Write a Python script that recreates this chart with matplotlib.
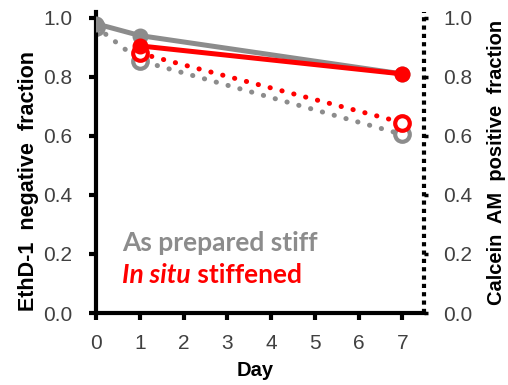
import matplotlib
matplotlib.use("Agg")
import matplotlib.pyplot as plt

plt.rcParams['font.family'] = ['Liberation Sans', 'DejaVu Sans']

gray_days = [0, 1, 7]
gray_ethd = [0.98, 0.94, 0.81]
gray_calc = [0.97, 0.855, 0.605]
red_days = [1, 7]
red_ethd = [0.905, 0.81]
red_calc = [0.88, 0.645]
xticks = [0, 1, 2, 3, 4, 5, 6, 7]
yticks = [0.0, 0.2, 0.4, 0.6, 0.8, 1.0]

GRAY = '#8c8c8c'
RED = '#ff0000'
TICKC = '#404040'
DOT = (0, (0.05, 2.4))

fig = plt.figure(figsize=(5.08, 3.85), dpi=100)
ax = fig.add_axes([0.189, 0.187, 0.646, 0.782])

ax.plot(gray_days, gray_calc, linestyle=DOT, dash_capstyle='round', color=GRAY,
        lw=3.6, marker='o', ms=10.5, mfc='white', mec=GRAY, mew=3, zorder=2)
ax.plot(gray_days, gray_ethd, '-', color=GRAY, lw=3.6, marker='o', ms=10.5,
        mfc=GRAY, mec=GRAY, zorder=3)
ax.plot(red_days, red_calc, linestyle=DOT, dash_capstyle='round', color=RED,
        lw=3.6, marker='o', ms=10.5, mfc='white', mec=RED, mew=3, zorder=4)
ax.plot(red_days, red_ethd, '-', color=RED, lw=3.6, marker='o', ms=10.5,
        mfc=RED, mec=RED, zorder=5)

ax.set_xlim(0, 7.5)
ax.set_ylim(0, 1.02)
ax.set_xticks(xticks)
ax.set_yticks(yticks)
ax.set_yticklabels([f"{v:.1f}" for v in yticks])
ax.spines['top'].set_visible(False)
ax.spines['right'].set_visible(False)
ax.spines['left'].set_linewidth(3)
ax.spines['bottom'].set_linewidth(3)
ax.tick_params(axis='both', direction='out', length=5, width=3, labelsize=15,
               labelcolor=TICKC)
ax.tick_params(axis='x', pad=10)
ax.tick_params(axis='y', pad=12)
ax.set_xlabel('Day', fontsize=14.5, fontweight='bold')
ax.set_ylabel('EthD-1  negative  fraction', fontsize=15.5, fontweight='bold')
ax.yaxis.set_label_coords(-0.175, 0.44)
ax.xaxis.set_label_coords(0.485, -0.158)

# dotted right axis line
ax.axvline(7.5, color='black', lw=3, linestyle=(0, (1, 1)), clip_on=False, zorder=1)

ax2 = ax.twinx()
ax2.set_ylim(0, 1.02)
ax2.set_yticks(yticks)
ax2.set_yticklabels([f"{v:.1f}" for v in yticks])
for s in ['top', 'left', 'bottom', 'right']:
    ax2.spines[s].set_visible(False)
ax2.tick_params(axis='y', direction='out', length=3, width=2.5, labelsize=15,
                labelcolor=TICKC, pad=11)
ax2.set_ylabel('Calcein  AM  positive  fraction', fontsize=14.5, fontweight='bold')
ax2.yaxis.set_label_coords(1.19, 0.5)

ax.text(0.08, 0.233, 'As prepared stiff', transform=ax.transAxes, color=GRAY,
        fontsize=19, fontweight='bold', va='center', family='Lato')
t1 = ax.text(0.08, 0.126, 'In situ', transform=ax.transAxes, color=RED,
             fontsize=19, fontweight='bold', style='italic', va='center', family='Lato')
ax.annotate(' stiffened', xy=(1, 0), xycoords=t1, va='bottom', ha='left',
            color=RED, fontsize=19, fontweight='bold', family='Lato')

fig.savefig('out.png', dpi=100)
